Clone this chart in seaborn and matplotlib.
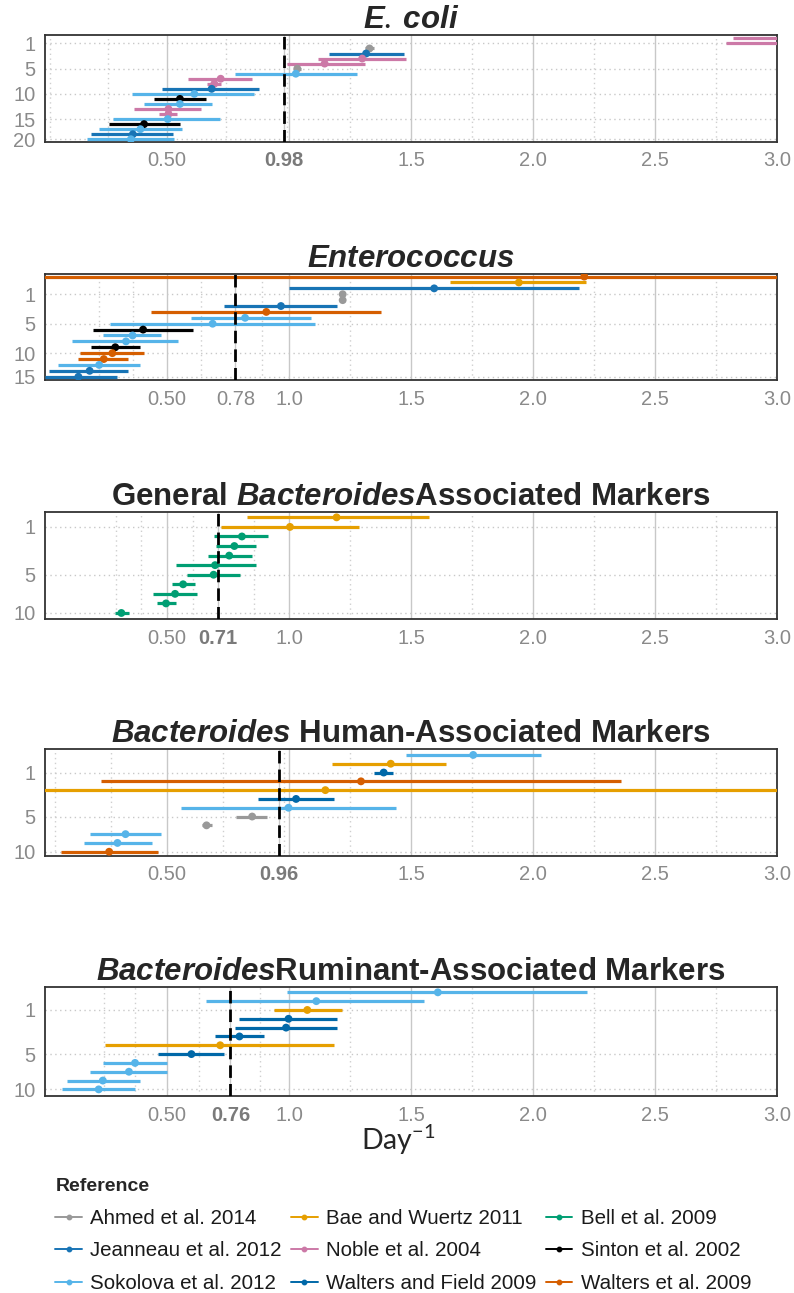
import numpy as np
import pandas as pd
import matplotlib
matplotlib.use("Agg")
import matplotlib.pyplot as plt
import seaborn as sns
from matplotlib.lines import Line2D

# ---------------------------------------------------------------- references
AHMED = "Ahmed et al. 2014"
BAE = "Bae and Wuertz 2011"
BELL = "Bell et al. 2009"
JEAN = "Jeanneau et al. 2012"
NOBLE = "Noble et al. 2004"
SINTON = "Sinton et al. 2002"
SOKO = "Sokolova et al. 2012"
WFIELD = "Walters and Field 2009"
WALT = "Walters et al. 2009"

references = [AHMED, BAE, BELL, JEAN, NOBLE, SINTON, SOKO, WFIELD, WALT]
reference_colors = ["#999999", "#E69F00", "#009E73", "#1874B5", "#CC79A7",
                    "#000000", "#56B4E9", "#0068A8", "#D55E00"]

# ---------------------------------------------------------------- E. coli
ecoli_ref = [NOBLE, NOBLE, AHMED, JEAN, NOBLE, NOBLE, AHMED, SOKO, NOBLE, NOBLE,
             JEAN, SOKO, SINTON, SOKO, NOBLE, NOBLE, SOKO, SINTON, SOKO, JEAN, SOKO]
ecoli_est = [3.30, 3.25, 1.33, 1.316, 1.30, 1.146, 1.034, 1.028, 0.72, 0.694,
             0.683, 0.612, 0.553, 0.553, 0.506, 0.506, 0.503, 0.406, 0.391, 0.36, 0.352]
ecoli_low = [2.82, 2.79, 1.31, 1.164, 1.12, 0.99, 1.02, 0.78, 0.588, 0.662,
             0.48, 0.355, 0.446, 0.406, 0.363, 0.469, 0.28, 0.264, 0.222, 0.188, 0.174]
ecoli_high = [3.80, 3.70, 1.35, 1.473, 1.48, 1.31, 1.05, 1.28, 0.849, 0.72,
              0.876, 0.856, 0.658, 0.686, 0.64, 0.542, 0.717, 0.553, 0.56, 0.526, 0.53]
ecoli_mean = 0.98
ecoli_xbreaks = [0.5, 0.98, 1.0, 1.5, 2.0, 2.5, 3.0]
ecoli_xlabels = ["0.50", "0.98", "", "1.5", "2.0", "2.5", "3.0"]
ecoli_ylabels = ["1", "5", "10", "15", "20"]
ecoli_yrows = [1, 6, 11, 16, 20]

# ---------------------------------------------------------------- Enterococcus
entero_ref = [WALT, BAE, JEAN, AHMED, AHMED, JEAN, WALT, SOKO, SOKO,
              SINTON, SOKO, SOKO, SINTON, WALT, WALT, SOKO, JEAN, JEAN]
entero_est = [2.21, 1.942, 1.595, 1.22, 1.22, 0.967, 0.907, 0.82, 0.687,
              0.402, 0.359, 0.332, 0.288, 0.276, 0.241, 0.222, 0.183, 0.137]
entero_low = [-0.60, 1.658, 1.002, 1.21, 1.21, 0.734, 0.434, 0.60, 0.268,
              0.197, 0.236, 0.11, 0.187, 0.143, 0.137, 0.054, 0.017, 0.002]
entero_high = [5.00, 2.218, 2.19, 1.23, 1.23, 1.195, 1.376, 1.09, 1.106,
               0.608, 0.475, 0.546, 0.388, 0.407, 0.34, 0.388, 0.34, 0.297]
entero_mean = 0.78
entero_xbreaks = [0.5, 0.78, 1.0, 1.5, 2.0, 2.5, 3.0]
entero_xlabels = ["0.50", "0.78", "1.0", "1.5", "2.0", "2.5", "3.0"]
entero_ylabels = ["1", "5", "10", "15"]
entero_yrows = [3, 8, 13, 17]

# ---------------------------------------------------------------- General Bacteroides
general_ref = [BAE, BAE, BELL, BELL, BELL, BELL, BELL, BELL, BELL, BELL, BELL]
general_est = [1.195, 1.004, 0.807, 0.776, 0.755, 0.697, 0.691, 0.566, 0.533, 0.496, 0.313]
general_low = [0.826, 0.722, 0.693, 0.70, 0.666, 0.535, 0.583, 0.521, 0.442, 0.459, 0.288]
general_high = [1.573, 1.288, 0.915, 0.863, 0.849, 0.863, 0.80, 0.614, 0.624, 0.535, 0.344]
general_mean = 0.71
general_xbreaks = [0.5, 0.71, 1.0, 1.5, 2.0, 2.5, 3.0]
general_xlabels = ["0.50", "0.71", "1.0", "1.5", "2.0", "2.5", "3.0"]
general_ylabels = ["1", "5", "10"]
general_yrows = [1, 6, 10]

# ---------------------------------------------------------------- Human-associated
human_ref = [SOKO, BAE, WFIELD, WALT, BAE, WFIELD, SOKO, AHMED, AHMED, SOKO, SOKO, WALT]
human_est = [1.755, 1.417, 1.388, 1.295, 1.149, 1.029, 0.998, 0.849, 0.662, 0.33, 0.297, 0.263]
human_low = [1.479, 1.178, 1.35, 0.23, -1.00, 0.873, 0.558, 0.784, 0.645, 0.183, 0.158, 0.064]
human_high = [2.031, 1.645, 1.427, 2.36, 3.30, 1.185, 1.438, 0.911, 0.683, 0.475, 0.438, 0.463]
human_mean = 0.96
human_xbreaks = [0.5, 0.96, 1.0, 1.5, 2.0, 2.5, 3.0]
human_xlabels = ["0.50", "0.96", "", "1.5", "2.0", "2.5", "3.0"]
human_ylabels = ["1", "5", "10"]
human_yrows = [2, 7, 11]

# ---------------------------------------------------------------- Ruminant-associated
rumin_ref = [SOKO, SOKO, BAE, WFIELD, WFIELD, WFIELD, BAE, WFIELD, SOKO, SOKO, SOKO, SOKO]
rumin_est = [1.61, 1.112, 1.075, 0.998, 0.988, 0.797, 0.718, 0.60, 0.369, 0.344, 0.237, 0.22]
rumin_low = [0.992, 0.66, 0.94, 0.797, 0.78, 0.697, 0.247, 0.463, 0.237, 0.185, 0.089, 0.068]
rumin_high = [2.222, 1.554, 1.216, 1.195, 1.195, 0.898, 1.185, 0.732, 0.50, 0.50, 0.388, 0.367]
rumin_mean = 0.76
rumin_xbreaks = [0.5, 0.76, 1.0, 1.5, 2.0, 2.5, 3.0]
rumin_xlabels = ["0.50", "0.76", "1.0", "1.5", "2.0", "2.5", "3.0"]
rumin_ylabels = ["1", "5", "10"]
rumin_yrows = [2, 7, 11]

# ---------------------------------------------------------------- style
sns.set_style("white")
plt.rcParams["font.family"] = ["Liberation Sans", "DejaVu Sans"]
plt.rcParams["mathtext.fontset"] = "custom"
plt.rcParams["mathtext.it"] = "Liberation Sans:italic:bold"
plt.rcParams["mathtext.bf"] = "Liberation Sans:bold"
plt.rcParams["mathtext.rm"] = "Lato"

palette = dict(zip(references, reference_colors))
TICK_GREY = "#8a8a8a"
W, H = 794, 1293

fig = plt.figure(figsize=(W / 100, H / 100), dpi=100)


def minor_breaks(major, lo=0.0, hi=3.0):
    # ggplot-style minor breaks: midpoints between majors, extended one step below
    b = list(major)
    step = b[1] - b[0]
    if lo < b[0]:
        b = [b[0] - step] + b
    mids = [(a + c) / 2 for a, c in zip(b[:-1], b[1:])]
    cand = sorted(set([round(v, 4) for v in b + mids]))
    return [v for v in cand if lo < v < hi and all(abs(v - m) > 1e-6 for m in major)]


def panel(top_px, bottom_px, title, refs, est, low, high, mean,
          xbreaks, xlabels, ylabels, yrows, ylim, bold_mean=True):
    ax = fig.add_axes([45 / W, 1 - bottom_px / H, 732 / W, (bottom_px - top_px) / H])
    df = pd.DataFrame({"reference": refs, "estimate": est,
                       "lower": low, "upper": high})
    df["row"] = np.arange(len(df))

    ax.hlines(df["row"], df["lower"], df["upper"],
              colors=df["reference"].map(palette), lw=2.3, zorder=3)
    sns.scatterplot(data=df, x="estimate", y="row", hue="reference",
                    palette=palette, s=32, linewidth=0, legend=False,
                    ax=ax, zorder=4)
    ax.axvline(mean, color="black", lw=2.0, ls=(0, (4.5, 2.2)), zorder=5)

    ax.set_xlim(0, 3.0)
    ax.set_ylim(*ylim)

    ax.set_xticks(xbreaks)
    ax.set_xticklabels(xlabels)
    ax.set_xticks(minor_breaks(xbreaks), minor=True)
    ax.set_yticks(yrows)
    ax.set_yticklabels(ylabels)

    ax.xaxis.grid(True, which="major", color="#c8c8c8", lw=1.0, ls="-", zorder=0)
    ax.xaxis.grid(True, which="minor", color="#cfcfcf", lw=1.0, ls=(0, (1, 2.5)), zorder=0)
    ax.yaxis.grid(True, which="major", color="#c8c8c8", lw=1.0, ls=(0, (1, 2.5)), zorder=0)
    ax.set_axisbelow(True)

    ax.tick_params(axis="both", which="major", length=4.5, width=0.9,
                   color="#555555", labelsize=14.5, labelcolor=TICK_GREY, pad=2.5)
    ax.tick_params(axis="x", which="minor", length=0)
    for lab in ax.get_xticklabels():
        if lab.get_text() == f"{mean:.2f}" and bold_mean:
            lab.set_fontweight("bold")
            lab.set_color("#7a7a7a")

    for s in ax.spines.values():
        s.set_color("#333333")
        s.set_linewidth(1.3)

    ax.set_xlabel("")
    ax.set_ylabel("")
    ax.set_title(title, fontsize=22.5, fontweight="bold", pad=5)
    return ax


panel(35, 141.7, r"$\mathit{E.\:coli}$", ecoli_ref, ecoli_est, ecoli_low, ecoli_high,
      ecoli_mean, ecoli_xbreaks, ecoli_xlabels, ecoli_ylabels, ecoli_yrows, (20.48, -0.67))
panel(274, 380, r"$\mathit{Enterococcus}$", entero_ref, entero_est, entero_low, entero_high,
      entero_mean, entero_xbreaks, entero_xlabels, entero_ylabels, entero_yrows, (17.56, -0.44),
      bold_mean=False)
panel(511.7, 619, r"General $\mathit{Bacteroides}$Associated Markers", general_ref, general_est,
      general_low, general_high, general_mean, general_xbreaks, general_xlabels,
      general_ylabels, general_yrows, (10.63, -0.59))
panel(749.3, 855.7, r"$\mathit{Bacteroides}$ Human-Associated Markers", human_ref, human_est,
      human_low, human_high, human_mean, human_xbreaks, human_xlabels,
      human_ylabels, human_yrows, (11.45, -0.64))
panel(987.3, 1096, r"$\mathit{Bacteroides}$Ruminant-Associated Markers", rumin_ref, rumin_est,
      rumin_low, rumin_high, rumin_mean, rumin_xbreaks, rumin_xlabels,
      rumin_ylabels, rumin_yrows, (11.75, -0.57))

# shared x-axis label
fig.text(398 / W, 1 - 1140 / H, r"Day$^{\mathregular{-1}}$", ha="center", va="center",
         fontsize=20.5, family="Lato")

# legend, filled row by row
order = [AHMED, JEAN, SOKO, BAE, NOBLE, WFIELD, BELL, SINTON, WALT]
handles = [Line2D([0], [0], color=palette[r], lw=1.4, marker="o", markersize=3.2)
           for r in order]
leg = fig.legend(handles, order, ncol=3, loc="upper left",
                 bbox_to_anchor=(43 / W, 1 - 1166 / H), frameon=False,
                 title="Reference", alignment="left",
                 title_fontproperties={"weight": "bold", "size": 14},
                 fontsize=14.8, handlelength=1.3, handletextpad=0.4,
                 columnspacing=0.45, labelspacing=0.66, borderpad=0.1)
for t in leg.get_texts():
    t.set_color("#1a1a1a")

fig.savefig("out.png", dpi=100)
